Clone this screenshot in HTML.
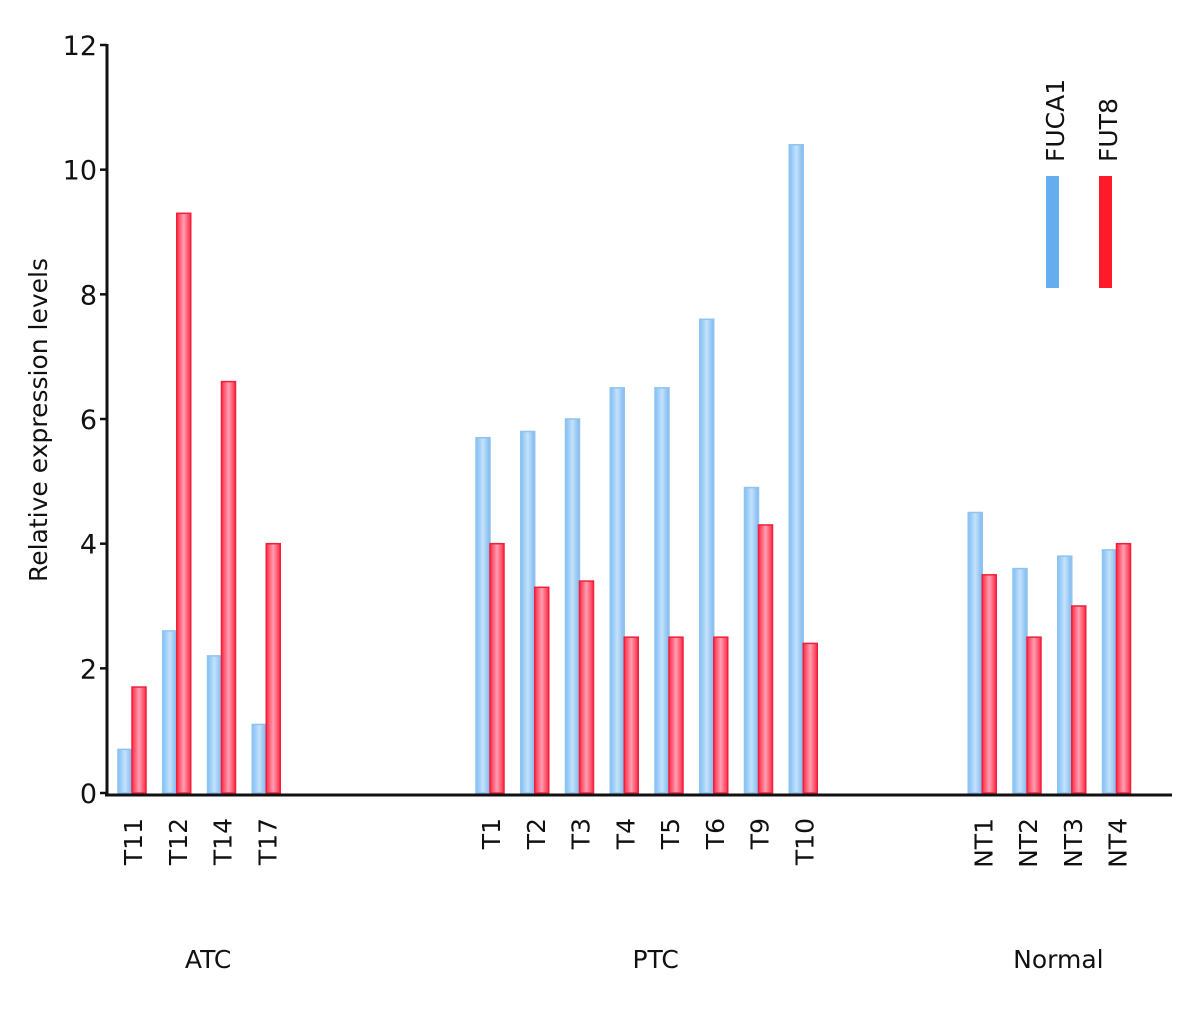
<!DOCTYPE html>
<html><head><meta charset="utf-8"><style>
body{margin:0;background:#fff}
svg{display:block;font-family:"DejaVu Sans","Liberation Sans",sans-serif}
</style></head><body>
<svg id="chart" width="1181" height="1011" viewBox="0 0 1181 1011">
<defs>
<linearGradient id="gb" x1="0" y1="0" x2="1" y2="0"><stop offset="0" stop-color="#7fbff5"/><stop offset="0.5" stop-color="#c4e2fb"/><stop offset="1" stop-color="#7fb8ee"/></linearGradient>
<linearGradient id="gr" x1="0" y1="0" x2="1" y2="0"><stop offset="0" stop-color="#ff2a45"/><stop offset="0.5" stop-color="#ff9fb2"/><stop offset="1" stop-color="#ff2a45"/></linearGradient>
</defs>
<g id="bars"></g>
<g id="axes"></g>
</svg>
<script>
const categories=["T11","T12","T14","T17","T1","T2","T3","T4","T5","T6","T9","T10","NT1","NT2","NT3","NT4"];
const slots=[0,1,2,3,8,9,10,11,12,13,14,15,19,20,21,22];
const fuca1=[0.7,2.6,2.2,1.1,5.7,5.8,6.0,6.5,6.5,7.6,4.9,10.4,4.5,3.6,3.8,3.9];
const fut8=[1.7,9.3,6.6,4.0,4.0,3.3,3.4,2.5,2.5,2.5,4.3,2.4,3.5,2.5,3.0,4.0];
const yTicks=[0,2,4,6,8,10,12];
const groups=["ATC","PTC","Normal"];
const groupCenters=[1.5,11.5,20.5];

const NS="http://www.w3.org/2000/svg";
const y0=793,yTop=45,yMax=12;
const yScale=v=>y0-(v/yMax)*(y0-yTop);
const xScale=s=>118+s*44.75;
const bw=14;
const bars=document.getElementById('bars'),axes=document.getElementById('axes');
function mk(tag,attrs,parent){const e=document.createElementNS(NS,tag);for(const k in attrs)e.setAttribute(k,attrs[k]);parent.appendChild(e);return e;}

categories.forEach((c,i)=>{
  const x=xScale(slots[i]);
  let r=mk('rect',{x:x,y:yScale(fuca1[i]),width:bw,height:y0-yScale(fuca1[i]),fill:'url(#gb)',stroke:'#8fc4f2','stroke-width':1.5},bars);
  
  
  r=mk('rect',{x:x+bw,y:yScale(fut8[i]),width:bw,height:y0-yScale(fut8[i]),fill:'url(#gr)',stroke:'#f0203c','stroke-width':1.5},bars);
  
  
  const cx=x+bw+1, t=mk('text',{x:0,y:0,transform:`translate(${cx+9},818) rotate(-90)`,'text-anchor':'end','font-size':25,fill:'#111'},axes);
  t.textContent=c;
  
  
});
let l=mk('line',{x1:107,y1:44,x2:107,y2:796,stroke:'#111','stroke-width':3},axes);


l=mk('line',{x1:105,y1:795,x2:1172,y2:795,stroke:'#111','stroke-width':3},axes);


yTicks.forEach(v=>{
  const y=yScale(v);
  mk('line',{x1:100,y1:y,x2:107,y2:y,stroke:'#111','stroke-width':2.5},axes);
  const t=mk('text',{x:97,y:y+10,'text-anchor':'end','font-size':27,fill:'#111'},axes);
  t.textContent=v;
  
  
});
groups.forEach((g,i)=>{
  const t=mk('text',{x:xScale(groupCenters[i])+bw+9,y:968,'text-anchor':'middle','font-size':25,fill:'#111'},axes);
  t.textContent=g;
  
  
});
let yt=mk('text',{x:0,y:0,transform:'translate(47,420) rotate(-90)','text-anchor':'middle','font-size':25,fill:'#111'},axes);
yt.textContent='Relative expression levels';


// legend
[['FUCA1','#64aef0',1046],['FUT8','#ff1a2a',1099]].forEach(([n,col,x])=>{
  const t=mk('text',{x:0,y:0,transform:`translate(${x+18},162) rotate(-90)`,'font-size':25,fill:'#111'},axes);
  t.textContent=n;
  
  
  const r=mk('rect',{x:x,y:176,width:13,height:112,fill:col},axes);
  
  
});
</script>
</body></html>
